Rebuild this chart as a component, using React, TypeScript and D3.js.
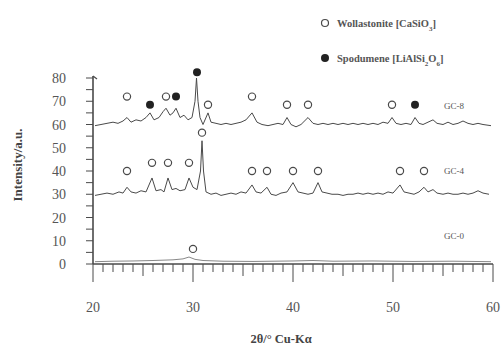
import React from "react";
import * as d3 from "d3";

const xTicks = [20, 30, 40, 50, 60];
const yTicks = [0, 10, 20, 30, 40, 50, 60, 70, 80];

const gc8: [number, number][] = [
  [20.2, 59.5], [20.8, 60], [21.4, 60.5], [22, 61], [22.5, 60.5], [23, 61.5], [23.4, 63], [23.8, 61],
  [24.3, 62], [24.8, 61.5], [25.3, 63], [25.7, 65], [26.1, 62], [26.6, 63], [27, 65.5], [27.3, 67],
  [27.7, 64], [28, 65], [28.3, 67], [28.7, 63], [29.1, 64], [29.5, 62], [29.9, 63], [30.2, 70],
  [30.35, 80], [30.5, 70], [30.7, 63], [31, 60], [31.5, 65], [31.8, 61], [32.3, 60.5], [32.8, 60],
  [33.3, 60.5], [33.8, 60], [34.3, 60.5], [34.8, 61], [35.3, 62], [35.9, 65], [36.4, 61], [36.9, 60],
  [37.5, 59.5], [38, 60], [38.5, 60.5], [39, 60], [39.4, 63], [39.8, 60], [40.3, 59], [40.8, 60],
  [41.5, 63], [42, 60.5], [42.5, 60], [43, 60.5], [43.5, 60], [44, 60.5], [44.5, 60], [45, 60.5],
  [45.5, 60], [46, 60.5], [46.5, 60], [47, 60.5], [47.5, 60], [48, 60.5], [48.5, 60], [49, 61],
  [49.5, 60.5], [49.9, 63], [50.3, 60.5], [50.8, 60], [51.3, 60.5], [51.8, 60], [52.2, 63], [52.6, 60.5],
  [53, 60], [53.5, 61], [54, 62], [54.4, 60.5], [55, 60], [55.5, 61], [56, 60], [56.5, 60.5],
  [57, 61.5], [57.5, 60.5], [58, 60], [58.5, 60.5], [59, 60], [59.8, 59.5],
];

const gc4: [number, number][] = [
  [20.2, 29.5], [20.8, 30], [21.4, 30.5], [22, 30], [22.6, 31], [23, 30.5], [23.4, 33], [23.8, 31],
  [24.3, 30.5], [24.8, 31.5], [25.3, 31], [25.9, 37], [26.3, 31.5], [26.8, 32], [27.1, 31], [27.5, 37],
  [27.9, 32], [28.3, 32.5], [28.7, 31.5], [29.2, 32], [29.6, 37], [30, 33], [30.4, 32], [30.75, 40],
  [30.9, 53], [31.05, 40], [31.3, 31], [31.8, 30], [32.3, 30.5], [32.8, 29.5], [33.3, 30], [33.8, 30.5],
  [34.3, 30], [34.8, 31], [35.3, 30.5], [35.9, 34], [36.3, 31], [36.8, 30.5], [37.4, 33], [37.8, 30],
  [38.3, 29.5], [38.8, 30.5], [39.4, 31], [40, 35], [40.5, 31], [41, 30.5], [41.5, 30], [42, 30.5],
  [42.5, 35], [42.9, 31], [43.4, 30.5], [43.9, 30], [44.5, 30], [45, 29.5], [45.5, 30], [46, 30],
  [46.5, 30.5], [47, 30], [47.5, 30.5], [48, 30], [48.5, 30.5], [49, 30], [49.5, 31], [50, 30.5],
  [50.7, 34], [51.1, 31], [51.6, 30.5], [52.1, 30], [52.6, 31], [53.1, 33], [53.5, 31], [54, 32],
  [54.4, 30.5], [55, 30], [55.5, 30.5], [56, 30], [56.5, 30], [57, 30.5], [57.5, 30], [58, 30.5],
  [58.5, 31.5], [59, 30.5], [59.6, 30],
];

const gc0: [number, number][] = [
  [20.2, 1], [22, 1.2], [24, 1.3], [26, 1.5], [28, 1.8], [29, 2.2], [29.6, 3], [30.2, 2], [31, 1.5],
  [33, 1.2], [36, 1.1], [40, 1.3], [42, 1.5], [44, 1.2], [48, 1.3], [52, 1.1], [56, 1.2], [59.8, 1],
];

// markers: [2theta, intensity, filled?]
const wollastoniteMarks: [number, number][] = [
  [23.4, 72], [27.3, 72], [31.5, 68.5], [35.9, 72], [39.4, 68.5], [41.5, 68.5], [49.9, 68.5],
  [23.4, 40], [25.9, 43.5], [27.5, 43.5], [29.6, 43.5], [30.9, 56.5], [35.9, 40], [37.4, 40],
  [40, 40], [42.5, 40], [50.7, 40], [53.1, 40],
  [30, 6.5],
];
const spodumeneMarks: [number, number][] = [
  [25.7, 68.5], [28.3, 72], [30.4, 82.5], [52.2, 68.5],
];

const seriesLabels: { name: string; y: number }[] = [
  { name: "GC-8", y: 68 },
  { name: "GC-4", y: 40 },
  { name: "GC-0", y: 12 },
];

export default function App() {
  const W = 503, H = 347;
  const x = d3.scaleLinear().domain([20, 60]).range([93, 493]);
  const y = d3.scaleLinear().domain([0, 80]).range([264, 78]);
  const line = d3.line<[number, number]>().x((d) => x(d[0])).y((d) => y(d[1]));
  const minorX = d3.range(20, 61, 1);
  const minorY = d3.range(0, 81, 5);
  const col = "#4a4a4a";
  const serif = "'Liberation Serif', 'DejaVu Serif', serif";
  return (
    <svg width={W} height={H} style={{ position: "absolute", left: 0, top: 0, background: "#fff" }}>
      {/* legend */}
      <circle cx={325} cy={23} r={3.5} fill="#fff" stroke={col} strokeWidth={1.2} />
      <text x={337} y={27} fontFamily={serif} fontSize={10.5} fontWeight="bold" fill="#555">
        Wollastonite [CaSiO<tspan baselineShift="sub" fontSize={7}>3</tspan>]
      </text>
      <circle cx={325} cy={58} r={4} fill="#222" />
      <text x={337} y={62} fontFamily={serif} fontSize={10.5} fontWeight="bold" fill="#555">
        Spodumene [LiAlSi<tspan baselineShift="sub" fontSize={7}>2</tspan>O<tspan baselineShift="sub" fontSize={7}>6</tspan>]
      </text>

      {/* axes */}
      <line x1={x(20)} x2={x(20)} y1={y(0)} y2={y(80) - 2} stroke={col} strokeWidth={1.6} />
      <line x1={x(20)} x2={x(20) + 4} y1={y(80) - 2} y2={y(80) + 1} stroke={col} strokeWidth={1.2} />
      <line x1={x(20)} x2={x(60)} y1={y(0)} y2={y(0)} stroke={col} strokeWidth={1.4} />
      {minorY.map((v) => (
        <line key={"yt" + v} x1={x(20) - 7} x2={x(20)} y1={y(v)} y2={y(v)} stroke={col} strokeWidth={1} />
      ))}
      {minorX.map((v) => {
        const len = v % 10 === 0 ? 18 : v % 5 === 0 ? 12 : 8;
        return <line key={"xt" + v} x1={x(v)} x2={x(v)} y1={y(0)} y2={y(0) + len} stroke={col} strokeWidth={1} />;
      })}
      {yTicks.map((v) => (
        <text key={"yl" + v} x={66} y={y(v) + 5} textAnchor="end" fontFamily={serif} fontSize={14} fill="#555">
          {v}
        </text>
      ))}
      {xTicks.map((v) => (
        <text key={"xl" + v} x={x(v)} y={312} textAnchor="middle" fontFamily={serif} fontSize={14} fill="#555">
          {v}
        </text>
      ))}
      <text x={281} y={343} textAnchor="middle" fontFamily={serif} fontSize={12.5} fontWeight="bold" fill="#444">
        2θ/° Cu-Kα
      </text>
      <text transform="translate(22,165) rotate(-90)" textAnchor="middle" fontFamily={serif} fontSize={13} fontWeight="bold" fill="#444">
        Intensity/a.u.
      </text>

      {/* series */}
      <path d={line(gc0) ?? ""} fill="none" stroke="#888" strokeWidth={1} />
      <path d={line(gc4) ?? ""} fill="none" stroke={col} strokeWidth={1} />
      <path d={line(gc8) ?? ""} fill="none" stroke={col} strokeWidth={1} />

      {wollastoniteMarks.map((m, i) => (
        <circle key={"w" + i} cx={x(m[0])} cy={y(m[1])} r={3.6} fill="#fff" stroke={col} strokeWidth={1.2} />
      ))}
      {spodumeneMarks.map((m, i) => (
        <circle key={"s" + i} cx={x(m[0])} cy={y(m[1])} r={4} fill="#222" />
      ))}
      {seriesLabels.map((s) => (
        <text key={s.name} x={444} y={y(s.y) + 3} fontFamily={serif} fontSize={9} fill="#555">
          {s.name}
        </text>
      ))}
    </svg>
  );
}
